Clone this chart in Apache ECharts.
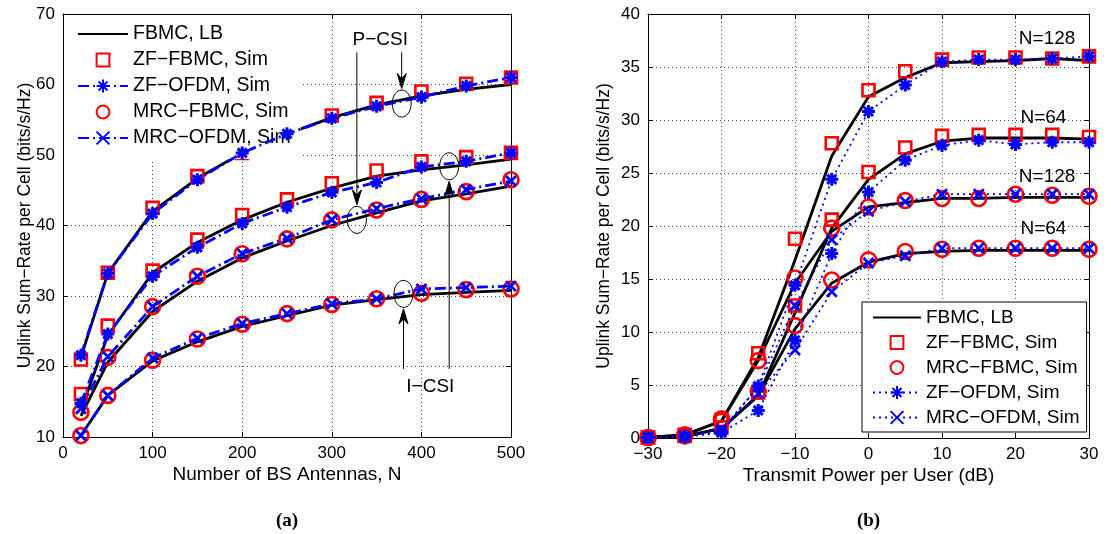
<!DOCTYPE html>
<html><head><meta charset="utf-8">
<script src="https://cdn.jsdelivr.net/npm/echarts@6/dist/echarts.min.js"></script>
<style>html,body{margin:0;padding:0;background:#fff}#c{width:1111px;height:534px}</style>
</head><body><div id="c"></div>
<script>
// ---------- data: (a) rate vs number of BS antennas ----------
const antennas = [20, 50, 100, 150, 200, 250, 300, 350, 400, 450, 500];
const zfPcsiLB      = [21.3, 33.2, 42.0, 46.7, 50.3, 53.0, 55.3, 57.1, 58.4, 59.3, 60.0];
const zfPcsiFbmcSim = [21.0, 33.3, 42.5, 47.0, 50.3, 53.3, 55.6, 57.4, 59.0, 60.1, 61.0];
const zfPcsiOfdmSim = [21.6, 33.2, 41.7, 46.5, 50.3, 53.0, 55.2, 56.9, 58.2, 59.8, 61.0];
const zfIcsiLB      = [13.8, 24.4, 33.3, 37.6, 40.8, 43.3, 45.3, 47.0, 47.9, 48.6, 49.4];
const zfIcsiFbmcSim = [16.1, 25.8, 33.6, 38.0, 41.5, 43.7, 46.0, 47.8, 49.1, 49.7, 50.3];
const zfIcsiOfdmSim = [14.8, 24.6, 32.8, 36.9, 40.3, 42.6, 44.7, 46.1, 48.3, 49.1, 50.3];
const mrcPcsiLB      = [13.0, 20.6, 27.8, 32.1, 35.4, 37.8, 40.0, 41.8, 43.5, 44.5, 45.6];
const mrcPcsiFbmcSim = [13.5, 21.3, 28.5, 32.8, 36.0, 38.1, 40.8, 42.2, 43.7, 44.8, 46.5];
const mrcPcsiOfdmSim = [14.0, 21.4, 28.5, 32.8, 36.0, 38.2, 40.8, 42.4, 43.8, 45.1, 46.3];
const mrcIcsiLB      = [10.2, 15.9, 20.8, 23.5, 25.7, 27.2, 28.7, 29.5, 30.2, 30.5, 30.8];
const mrcIcsiFbmcSim = [10.2, 15.9, 20.9, 23.9, 26.0, 27.5, 28.8, 29.6, 30.4, 30.9, 31.0];
const mrcIcsiOfdmSim = [10.2, 15.9, 21.2, 24.0, 26.1, 27.5, 28.9, 29.6, 31.0, 31.2, 31.4];

// ---------- data: (b) rate vs transmit power ----------
const powerDb = [-30, -25, -20, -15, -10, -5, 0, 5, 10, 15, 20, 25, 30];
const zf128LB       = [0.05, 0.3, 1.6, 7.6, 16.8, 26.6, 32.2, 34.0, 35.4, 35.5, 35.6, 35.8, 35.6];
const zf128FbmcSim  = [0.05, 0.3, 1.7, 8.0, 18.8, 27.8, 32.8, 34.6, 35.7, 35.9, 35.9, 35.8, 36.0];
const zf128OfdmSim  = [0.05, 0.2, 0.6, 4.9, 14.4, 24.4, 30.8, 33.3, 35.5, 35.7, 35.7, 35.8, 36.0];
const zf64LB        = [0.05, 0.15, 0.9, 4.0, 11.8, 19.8, 24.4, 26.8, 28.0, 28.3, 28.3, 28.3, 28.2];
const zf64FbmcSim   = [0.05, 0.2, 1.0, 4.3, 12.5, 20.6, 25.1, 27.4, 28.5, 28.6, 28.6, 28.6, 28.4];
const zf64OfdmSim   = [0.05, 0.1, 0.5, 2.6, 9.2, 17.4, 23.2, 26.2, 27.6, 28.1, 27.7, 27.9, 27.9];
const mrc128LB      = [0.05, 0.3, 1.6, 7.3, 14.6, 19.5, 21.8, 22.2, 22.6, 22.6, 22.7, 22.7, 22.7];
const mrc128FbmcSim = [0.05, 0.3, 1.8, 7.3, 15.1, 19.8, 21.8, 22.4, 22.6, 22.6, 23.0, 22.9, 22.8];
const mrc128OfdmSim = [0.05, 0.2, 0.8, 4.8, 12.5, 18.7, 21.4, 22.3, 23.0, 23.0, 23.0, 23.0, 23.0];
const mrc64LB       = [0.05, 0.15, 0.9, 4.0, 10.3, 14.6, 16.6, 17.4, 17.6, 17.7, 17.7, 17.7, 17.7];
const mrc64FbmcSim  = [0.05, 0.2, 1.6, 4.4, 10.6, 14.9, 16.8, 17.6, 17.8, 17.9, 17.9, 17.9, 17.8];
const mrc64OfdmSim  = [0.05, 0.1, 0.7, 4.2, 8.3, 13.8, 16.5, 17.2, 17.9, 17.9, 17.9, 17.9, 17.9];

// ---------- text ----------
const legendNamesA = ['FBMC, LB', 'ZF−FBMC, Sim', 'ZF−OFDM, Sim', 'MRC−FBMC, Sim', 'MRC−OFDM, Sim'];
const legendNamesB = ['FBMC, LB', 'ZF−FBMC, Sim', 'MRC−FBMC, Sim', 'ZF−OFDM, Sim', 'MRC−OFDM, Sim'];
const yTitle = 'Uplink Sum−Rate per Cell (bits/s/Hz)';
const xTitleA = 'Number of BS Antennas, N';
const xTitleB = 'Transmit Power per User (dB)';
// annotations in data coordinates
const annotA = { pText: [354, 66.4], iText: [410, 17.1],
  ellipses: [[378, 57.3], [328, 40.8], [380, 30.3], [431, 48.4]] };
const annotB = [['N=128', 24.3, 37.7], ['N=64', 23.8, 30.2], ['N=128', 24.3, 24.6], ['N=64', 23.8, 19.7]];

const FONT = '"Liberation Sans", Arial, Helvetica, sans-serif';
const RED = '#ff0000', BLUE = '#0000ff';
const STAR = 'path://M0,-10L0,10M-10,0L10,0M-7,-7L7,7M-7,7L7,-7';
const CROSS = 'path://M-10,-10L10,10M-10,10L10,-10';
const minus = v => String(v).replace('-', '−');

function pairs(xs, ys) { return xs.map((x, i) => [x, ys[i]]); }

function lbSeries(p, gi, xs, ys) {
  return { name: p + 'FBMC, LB', type: 'line', xAxisIndex: gi * 2, yAxisIndex: gi * 2,
    data: pairs(xs, ys), symbol: 'none', z: 2, silent: true,
    lineStyle: { color: '#000', width: 2.8 }, itemStyle: { color: '#000' } };
}
function fbmcSim(p, gi, kind, xs, ys) {
  const isZF = kind === 'ZF';
  return { name: p + (isZF ? 'ZF−FBMC, Sim' : 'MRC−FBMC, Sim'), type: 'line',
    xAxisIndex: gi * 2, yAxisIndex: gi * 2, data: pairs(xs, ys), z: 3, silent: true,
    symbol: isZF ? 'rect' : 'circle', symbolSize: isZF ? 12 : 15, showAllSymbol: true,
    lineStyle: { width: 0, opacity: 0, color: RED },
    itemStyle: { color: 'rgba(255,255,255,0)', borderColor: RED, borderWidth: 2.6, opacity: 1 } };
}
function ofdmSim(p, gi, kind, xs, ys) {
  const isZF = kind === 'ZF';
  const lineType = gi === 0 ? [11, 4, 2, 4] : [2, 4];
  const lw = gi === 0 ? 2.8 : 1.8;
  return { name: p + (isZF ? 'ZF−OFDM, Sim' : 'MRC−OFDM, Sim'), type: 'line',
    xAxisIndex: gi * 2, yAxisIndex: gi * 2, data: pairs(xs, ys), z: 4, silent: true,
    symbol: isZF ? STAR : CROSS, symbolSize: isZF ? 13 : 10, showAllSymbol: true,
    lineStyle: { color: BLUE, width: lw, type: lineType },
    itemStyle: { color: BLUE, borderColor: BLUE, borderWidth: isZF ? 3 : 2.8 } };
}

const series = [
  lbSeries('a|', 0, antennas, zfPcsiLB), fbmcSim('a|', 0, 'ZF', antennas, zfPcsiFbmcSim), ofdmSim('a|', 0, 'ZF', antennas, zfPcsiOfdmSim),
  lbSeries('a|', 0, antennas, zfIcsiLB), fbmcSim('a|', 0, 'ZF', antennas, zfIcsiFbmcSim), ofdmSim('a|', 0, 'ZF', antennas, zfIcsiOfdmSim),
  lbSeries('a|', 0, antennas, mrcPcsiLB), fbmcSim('a|', 0, 'MRC', antennas, mrcPcsiFbmcSim), ofdmSim('a|', 0, 'MRC', antennas, mrcPcsiOfdmSim),
  lbSeries('a|', 0, antennas, mrcIcsiLB), fbmcSim('a|', 0, 'MRC', antennas, mrcIcsiFbmcSim), ofdmSim('a|', 0, 'MRC', antennas, mrcIcsiOfdmSim),
  lbSeries('b|', 1, powerDb, zf128LB), fbmcSim('b|', 1, 'ZF', powerDb, zf128FbmcSim), ofdmSim('b|', 1, 'ZF', powerDb, zf128OfdmSim),
  lbSeries('b|', 1, powerDb, zf64LB), fbmcSim('b|', 1, 'ZF', powerDb, zf64FbmcSim), ofdmSim('b|', 1, 'ZF', powerDb, zf64OfdmSim),
  lbSeries('b|', 1, powerDb, mrc128LB), fbmcSim('b|', 1, 'MRC', powerDb, mrc128FbmcSim), ofdmSim('b|', 1, 'MRC', powerDb, mrc128OfdmSim),
  lbSeries('b|', 1, powerDb, mrc64LB), fbmcSim('b|', 1, 'MRC', powerDb, mrc64FbmcSim), ofdmSim('b|', 1, 'MRC', powerDb, mrc64OfdmSim)
];

const tickStyle = { show: true, inside: true, length: 5, lineStyle: { color: '#000', width: 1 } };
const lineBlack = { show: true, onZero: false, lineStyle: { color: '#000', width: 1 } };
const gridLine = { show: true, showMinLine: false, showMaxLine: false, lineStyle: { color: '#444', width: 1, type: [1, 3] } };
const labelStyle = { color: '#000', fontSize: 17, fontFamily: FONT, margin: 8, formatter: minus };

function mainX(gi, min, max, interval, name) {
  return { gridIndex: gi, type: 'value', min, max, interval, position: 'bottom',
    axisLine: lineBlack, axisTick: tickStyle, axisLabel: labelStyle, splitLine: gridLine,
    name, nameLocation: 'middle', nameGap: 28, nameMoveOverlap: false,
    nameTextStyle: { color: '#000', fontSize: 19, fontFamily: FONT } };
}
function mainY(gi, min, max, interval, name, gap) {
  return { gridIndex: gi, type: 'value', min, max, interval, position: 'left',
    axisLine: lineBlack, axisTick: tickStyle, axisLabel: labelStyle, splitLine: gridLine,
    name, nameLocation: 'middle', nameGap: gap, nameMoveOverlap: false,
    nameTextStyle: { color: '#000', fontSize: 17.5, fontFamily: FONT } };
}
function mirrorAxis(gi, min, max, interval, position) {
  return { gridIndex: gi, type: 'value', min, max, interval, position,
    axisLine: lineBlack, axisTick: tickStyle, axisLabel: { show: false }, splitLine: { show: false } };
}

const strip = n => n.slice(2);
const legendItems = (p, names) => names.map(n => n === 'FBMC, LB'
  ? { name: p + n, itemStyle: { opacity: 0 } } : { name: p + n });
const option = {
  animation: false,
  backgroundColor: '#fff',
  grid: [
    { left: 63, top: 14, width: 448, height: 423, containLabel: false },
    { left: 648, top: 14, width: 441, height: 424, containLabel: false }
  ],
  xAxis: [
    mainX(0, 0, 500, 100, xTitleA), mirrorAxis(0, 0, 500, 100, 'top'),
    mainX(1, -30, 30, 10, xTitleB), mirrorAxis(1, -30, 30, 10, 'top')
  ],
  yAxis: [
    mainY(0, 10, 70, 10, yTitle, 29), mirrorAxis(0, 10, 70, 10, 'right'),
    mainY(1, 0, 40, 5, yTitle, 35), mirrorAxis(1, 0, 40, 5, 'right')
  ],
  legend: [
    { orient: 'vertical', left: 64, top: 15, backgroundColor: '#fff', borderWidth: 0,
      padding: [9, 10, 11, 13], itemWidth: 50, itemHeight: 16, itemGap: 6, selectedMode: false,
      textStyle: { color: '#000', fontSize: 19.5, fontFamily: FONT },
      data: legendItems('a|', legendNamesA), formatter: strip },
    { orient: 'vertical', left: 862, top: 302, backgroundColor: '#fff', borderColor: '#000', borderWidth: 1,
      padding: [6, 7, 5, 10], itemWidth: 48, itemHeight: 16, itemGap: 6, selectedMode: false,
      textStyle: { color: '#000', fontSize: 19, fontFamily: FONT },
      data: legendItems('b|', legendNamesB), formatter: strip }
  ],
  series
};

const chart = echarts.init(document.getElementById('c'), null, { renderer: 'canvas' });
chart.setOption(option);

// ---------- annotations placed through the axes' scales ----------
const pa = v => chart.convertToPixel({ xAxisIndex: 0, yAxisIndex: 0 }, v);
const pb = v => chart.convertToPixel({ xAxisIndex: 2, yAxisIndex: 2 }, v);
const g = [];
function txt(x, y, s, size, extra) {
  g.push({ type: 'text', x, y, z: 100, style: Object.assign({ text: s, fill: '#000', font: size + 'px ' + FONT,
    textAlign: 'center', textVerticalAlign: 'middle' }, extra || {}) });
}
function arrow(x, y1, y2) {
  const d = Math.sign(y2 - y1);
  g.push({ type: 'line', z: 100, shape: { x1: x, y1, x2: x, y2: y2 - d * 8 }, style: { stroke: '#000', lineWidth: 1 } });
  g.push({ type: 'polygon', z: 100, shape: { points: [[x, y2], [x - 4.5, y2 - d * 15], [x, y2 - d * 10], [x + 4.5, y2 - d * 15]] },
    style: { fill: '#000', stroke: '#000', lineWidth: 1 } });
}
const E = annotA.ellipses.map(pa);
E.forEach(c => g.push({ type: 'ellipse', z: 100, shape: { cx: c[0], cy: c[1], rx: 9.5, ry: 13.5 },
  style: { fill: 'none', stroke: '#000', lineWidth: 1 } }));
const pt = pa(annotA.pText), it = pa(annotA.iText);
txt(pt[0], pt[1], 'P−CSI', 19);
txt(it[0], it[1], 'I−CSI', 19);
arrow(E[0][0], pt[1] + 13, E[0][1] - 15);
arrow(E[1][0], pt[1] + 13, E[1][1] - 15);
arrow(E[2][0], it[1] - 18, E[2][1] + 15);
arrow(E[3][0], it[1] - 18, E[3][1] + 15);
annotB.forEach(a => { const p = pb([a[1], a[2]]); txt(p[0], p[1], a[0], 19); });
const ca = pa([250, 10]), cb = pb([0, 0]);
txt(ca[0], 521, '(a)', 19, { font: 'bold 19px "Liberation Serif", "Times New Roman", serif' });
txt(cb[0], 521, '(b)', 19, { font: 'bold 19px "Liberation Serif", "Times New Roman", serif' });
chart.setOption({ graphic: g });
</script></body></html>
